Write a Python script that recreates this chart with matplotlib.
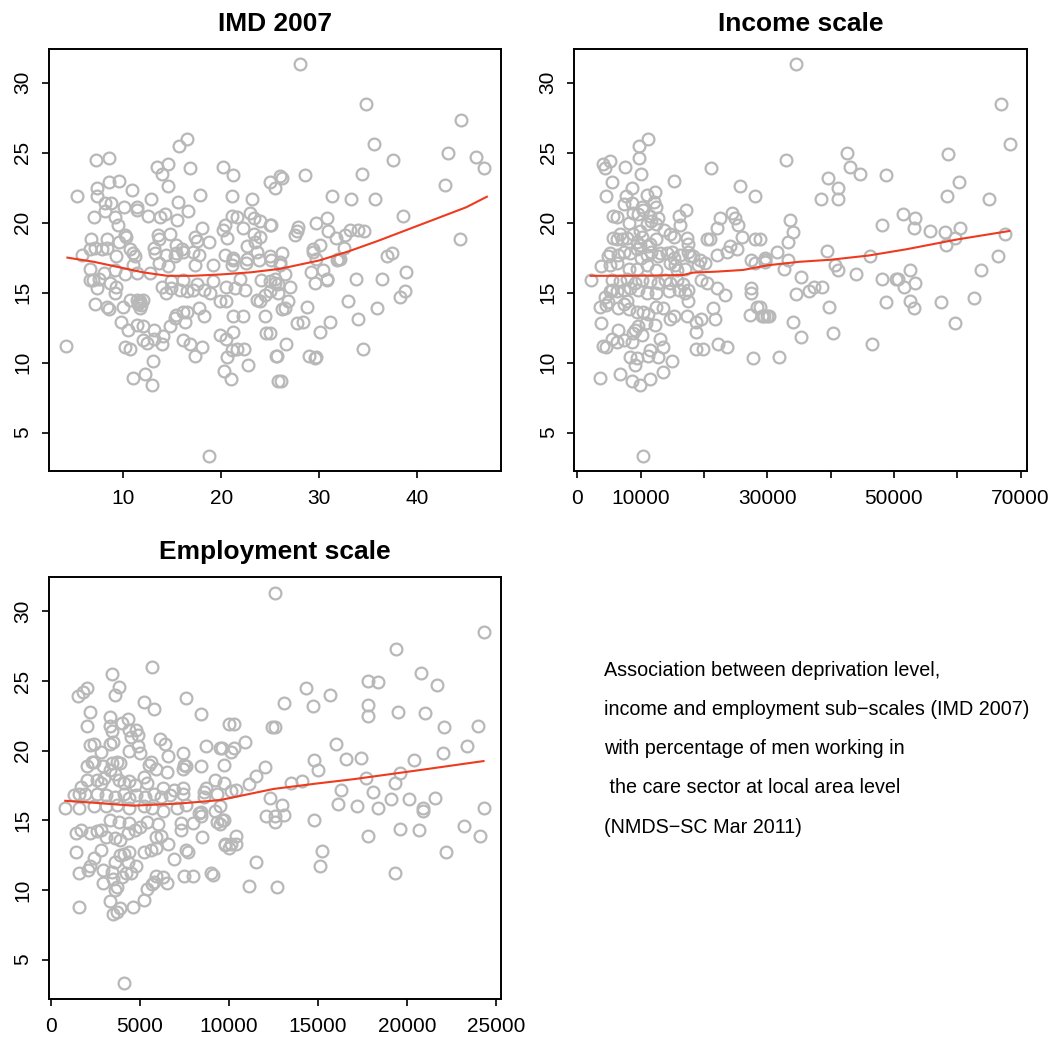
import matplotlib

matplotlib.use("Agg")

import matplotlib.pyplot as plt  # noqa: E402
import numpy as np  # noqa: E402

plt.rcParams["font.family"] = ["Liberation Sans", "DejaVu Sans"]

# % of men in care sector (y) against IMD score (x)
imd_pts = [
    (16.5, 26.0), (15.7, 25.5), (7.2, 24.5), (8.5, 24.6), (13.4, 24.0), (14.6, 24.2), (14.0, 23.5),
    (16.8, 23.9), (20.2, 24.0), (21.2, 23.4), (25.0, 22.9), (25.5, 22.5), (26.0, 23.3), (5.3, 21.9),
    (7.3, 22.5), (7.3, 21.9), (8.5, 22.9), (9.6, 23.0), (10.9, 22.3), (14.6, 22.6), (12.8, 21.7),
    (17.8, 22.0), (21.1, 21.9), (23.1, 21.7), (15.6, 21.5), (16.6, 20.8), (8.1, 21.4), (8.7, 21.4),
    (8.1, 20.8), (10.1, 21.1), (11.4, 21.1), (11.4, 20.9), (9.2, 20.4), (9.5, 19.8), (7.0, 20.4),
    (12.5, 20.5), (13.7, 20.4), (14.3, 20.6), (15.5, 20.2), (21.1, 20.5), (21.6, 20.4), (22.9, 20.7),
    (23.3, 20.3), (24.0, 20.1), (25.0, 19.8), (18.0, 19.6), (20.2, 19.5), (20.4, 19.8), (20.6, 18.9),
    (22.2, 19.6), (23.3, 19.2), (24.0, 19.0), (23.4, 18.6), (22.6, 18.3), (23.6, 17.9), (6.7, 18.8),
    (8.3, 18.8), (9.6, 18.6), (10.2, 19.1), (10.3, 19.0), (13.5, 19.1), (13.6, 18.8), (13.1, 18.2),
    (14.8, 19.2), (15.4, 18.4), (16.0, 18.1), (17.3, 19.0), (17.5, 18.7), (18.7, 18.6), (17.1, 17.9),
    (17.7, 17.7), (5.8, 17.7), (6.6, 18.1), (7.1, 18.2), (7.8, 18.1), (8.3, 18.2), (9.3, 17.6),
    (10.7, 18.1), (11.0, 17.8), (13.2, 17.8), (14.4, 17.7), (15.4, 17.8), (16.1, 17.9), (20.4, 17.7),
    (21.2, 17.5), (22.6, 17.4), (25.0, 17.6), (11.2, 17.6), (11.0, 17.0), (15.3, 17.6), (19.2, 17.0),
    (21.2, 17.3), (21.1, 17.0), (22.5, 17.1), (23.8, 17.3), (26.0, 17.2), (17.3, 17.0), (13.6, 17.1),
    (14.6, 16.9), (6.6, 16.7), (8.0, 16.4), (9.2, 16.6), (10.2, 16.3), (11.4, 16.4), (12.7, 16.4),
    (6.9, 15.9), (7.5, 16.0), (6.6, 15.9), (8.6, 15.7), (9.3, 15.4), (9.2, 15.0), (7.3, 15.3),
    (13.9, 15.4), (14.9, 15.3), (14.4, 15.0), (15.8, 15.2), (16.5, 15.1), (17.1, 15.2), (18.2, 15.2),
    (18.8, 15.0), (20.5, 15.4), (21.4, 15.3), (22.4, 15.2), (14.9, 15.8), (16.1, 15.9), (17.5, 15.6),
    (19.2, 15.8), (21.9, 16.0), (24.1, 15.9), (25.0, 15.8), (25.8, 15.0), (25.5, 16.0), (7.1, 14.2),
    (8.3, 14.0), (8.5, 13.8), (10.0, 14.0), (10.7, 14.5), (11.4, 14.5), (11.7, 14.4), (12.0, 14.5),
    (11.7, 13.9), (11.5, 14.2), (11.6, 14.3), (11.8, 14.1), (24.0, 14.4), (23.6, 14.5), (24.5, 14.8),
    (25.0, 15.1), (9.8, 12.9), (10.5, 12.3), (11.4, 12.7), (12.0, 12.6), (13.1, 12.3), (14.1, 11.9),
    (14.8, 12.6), (15.3, 13.2), (15.4, 13.4), (16.3, 12.9), (16.1, 13.6), (16.5, 13.6), (17.7, 13.9),
    (18.2, 13.3), (19.9, 14.4), (20.5, 14.4), (21.2, 13.3), (22.2, 13.3), (24.5, 13.3), (26.2, 13.8),
    (4.2, 11.2), (10.2, 11.1), (10.7, 11.0), (12.0, 11.6), (12.4, 11.4), (13.1, 11.7), (13.9, 11.3),
    (16.1, 11.6), (16.8, 11.3), (17.3, 10.5), (18.0, 11.1), (13.0, 10.1), (11.0, 8.9), (12.2, 9.2),
    (12.9, 8.4), (19.9, 12.0), (20.5, 11.7), (21.2, 12.2), (21.1, 10.9), (21.6, 11.0), (22.3, 11.0),
    (20.6, 10.4), (20.3, 9.4), (21.0, 8.8), (22.7, 9.8), (24.6, 12.1), (25.7, 10.5), (25.8, 8.7),
    (18.7, 3.3), (28.0, 31.3), (34.8, 28.5), (44.5, 27.3), (35.6, 25.6), (37.5, 24.5), (43.1, 25.0),
    (46.0, 24.7), (46.8, 23.9), (42.8, 22.7), (26.2, 23.2), (28.5, 23.4), (34.4, 23.5), (31.3, 21.9),
    (33.2, 21.7), (35.7, 21.7), (38.5, 20.5), (25.1, 19.8), (29.7, 20.0), (30.8, 20.3), (30.9, 19.4),
    (31.7, 18.9), (32.6, 19.1), (33.1, 19.5), (33.9, 19.5), (34.6, 19.4), (27.8, 19.7), (27.7, 19.4),
    (27.5, 19.1), (30.1, 18.4), (29.4, 18.1), (32.5, 18.2), (44.4, 18.8), (26.2, 17.8), (36.9, 17.6),
    (37.4, 17.8), (29.7, 17.4), (31.9, 17.4), (29.4, 17.9), (31.8, 17.3), (32.1, 17.4), (26.0, 17.0),
    (25.1, 17.3), (26.5, 16.3), (25.5, 15.7), (25.8, 15.6), (27.0, 15.4), (29.2, 16.5), (30.4, 16.6),
    (30.8, 16.0), (30.8, 15.9), (29.6, 15.7), (33.7, 16.0), (36.4, 16.0), (38.9, 16.5), (38.7, 15.1),
    (38.2, 14.7), (26.8, 14.4), (26.5, 13.9), (28.7, 14.0), (32.9, 14.4), (35.9, 13.9), (27.7, 12.8),
    (28.3, 12.9), (31.1, 12.9), (30.1, 12.2), (34.0, 13.1), (25.0, 12.1), (26.6, 11.3), (25.6, 10.5),
    (28.9, 10.5), (29.6, 10.3), (29.7, 10.4), (34.5, 11.0), (26.1, 8.7),
]

income_pts = [
    (11200, 26.0), (9700, 25.5), (4000, 24.2), (5100, 24.4), (4400, 23.9), (7500, 24.0), (9700, 24.6),
    (10000, 23.5), (21100, 23.9), (5400, 22.9), (15300, 23.0), (4600, 21.9), (8600, 22.5), (7700, 21.9),
    (7400, 21.3), (8700, 21.4), (11000, 22.0), (12300, 22.2), (12100, 21.5), (12400, 21.1), (10200, 21.1),
    (10400, 20.9), (8800, 20.7), (9600, 20.6), (11500, 20.5), (12800, 20.3), (11700, 20.1), (11000, 19.9),
    (12500, 19.9), (5700, 20.5), (6200, 20.4), (8100, 20.0), (25700, 22.6), (28100, 21.9), (17100, 20.9),
    (16100, 20.5), (16200, 19.8), (13700, 19.5), (14600, 19.2), (15200, 19.0), (17300, 18.9), (17500, 18.5),
    (12500, 18.8), (11500, 18.5), (9900, 19.4), (10200, 19.0), (8800, 19.2), (5700, 18.9), (6200, 18.8),
    (7000, 18.8), (6700, 19.2), (7800, 18.9), (9400, 18.6), (9900, 18.4), (11200, 18.3), (11700, 17.9),
    (9400, 18.1), (8300, 17.8), (4900, 17.6), (22500, 20.3), (24400, 20.7), (24900, 20.3), (25400, 19.8),
    (22000, 19.6), (21000, 18.8), (20400, 18.8), (26000, 19.0), (28100, 18.8), (24100, 18.3), (25200, 18.1),
    (23600, 17.9), (22000, 17.7), (27500, 17.3), (29600, 17.5), (13100, 17.8), (14900, 17.9), (17500, 17.9),
    (17800, 17.6), (6500, 17.7), (7300, 17.9), (10000, 17.5), (11000, 17.7), (12800, 17.6), (14100, 17.8),
    (15200, 17.5), (16200, 17.7), (18300, 17.6), (5200, 17.8), (19400, 17.3), (20200, 17.1), (28100, 17.1),
    (29600, 17.2), (3700, 16.9), (5200, 17.0), (6200, 17.1), (8100, 16.7), (9400, 16.7), (11000, 17.0),
    (12500, 16.6), (14600, 17.1), (15400, 17.0), (15700, 16.6), (17000, 16.7), (19100, 17.0), (2100, 15.9),
    (5400, 15.9), (6700, 15.8), (7800, 16.0), (9100, 15.7), (10200, 15.9), (11500, 15.8), (12800, 15.7),
    (13800, 15.9), (14600, 15.7), (15700, 15.9), (16700, 15.6), (17500, 15.2), (16000, 15.2), (14400, 15.1),
    (12500, 15.0), (11000, 15.0), (9600, 15.2), (8300, 15.3), (7300, 15.2), (6200, 15.1), (5200, 15.1),
    (19600, 15.9), (20400, 15.7), (22000, 15.3), (23300, 14.8), (27500, 15.3), (27400, 15.0), (5400, 15.2),
    (4400, 14.7), (3600, 14.0), (4500, 14.1), (4900, 14.3), (6500, 13.9), (7300, 14.2), (7800, 14.4),
    (8100, 13.8), (9400, 13.6), (10400, 13.6), (11200, 13.5), (12500, 14.0), (13600, 13.9), (14600, 13.1),
    (15200, 13.3), (17300, 13.3), (17500, 14.4), (17000, 15.0), (21500, 13.9), (21800, 13.1), (18800, 12.9),
    (19600, 13.1), (18800, 12.2), (27300, 13.4), (28300, 14.0), (29100, 13.3), (29900, 13.3), (3800, 12.8),
    (6500, 12.3), (5400, 11.7), (6200, 11.5), (7300, 11.6), (9100, 12.3), (9600, 12.6), (8800, 12.1),
    (8600, 11.5), (10200, 12.0), (10800, 12.8), (12300, 12.7), (13100, 11.7), (13600, 11.1), (11500, 10.9),
    (12800, 10.4), (11200, 10.5), (9400, 10.3), (9100, 9.8), (8300, 10.4), (14900, 10.1), (4100, 11.2),
    (4600, 11.1), (18800, 11.0), (19900, 11.0), (22200, 11.3), (23600, 11.1), (27800, 10.3), (3600, 8.9),
    (6700, 9.2), (8600, 8.7), (9900, 8.4), (11500, 8.8), (13500, 9.3), (10400, 3.3), (34500, 31.3),
    (66900, 28.5), (68300, 25.6), (42600, 25.0), (43100, 24.0), (44700, 23.5), (48800, 23.4), (58500, 24.9),
    (60200, 22.9), (58400, 21.9), (65000, 21.7), (33000, 24.5), (39600, 23.2), (41200, 22.5), (41100, 21.7),
    (38500, 21.7), (33600, 20.2), (34100, 19.3), (33200, 18.6), (51400, 20.6), (53300, 20.3), (53200, 19.6),
    (55700, 19.4), (58100, 19.3), (60400, 19.6), (58200, 18.4), (59600, 18.9), (67600, 19.2), (48100, 19.8),
    (28800, 18.8), (31600, 17.9), (33300, 17.3), (32600, 16.7), (29600, 17.3), (39500, 18.0), (40700, 17.0),
    (41100, 16.6), (46200, 17.6), (66500, 17.6), (63700, 16.6), (35400, 16.1), (37300, 15.4), (36600, 15.1),
    (38600, 15.4), (34500, 14.9), (39800, 14.0), (44000, 16.3), (48100, 16.0), (50400, 16.0), (50700, 16.0),
    (51600, 15.4), (52500, 16.6), (53400, 15.7), (48800, 14.3), (52500, 14.4), (53100, 13.9), (57500, 14.3),
    (62600, 14.6), (59700, 12.8), (28800, 14.0), (29400, 13.3), (30300, 13.3), (34000, 12.9), (35400, 11.8),
    (40300, 12.1), (31800, 10.4), (46500, 11.3),
]

employ_pts = [
    (12600, 31.3), (24300, 28.5), (19400, 27.3), (20800, 25.6), (21700, 24.7), (17800, 25.0), (18400, 24.9),
    (14300, 24.5), (15700, 24.0), (13100, 23.4), (14700, 23.2), (17800, 23.3), (17800, 22.5), (19500, 22.8),
    (21000, 22.7), (22100, 21.7), (24000, 21.8), (12400, 21.7), (12600, 21.7), (10300, 21.9), (16000, 20.5),
    (23400, 20.3), (22000, 19.8), (20400, 19.3), (17400, 19.5), (16600, 19.4), (14800, 19.3), (15000, 18.6),
    (10900, 20.6), (10300, 20.2), (10100, 19.9), (9600, 20.2), (9700, 19.0), (9700, 17.7), (12000, 18.8),
    (11500, 18.2), (11100, 17.6), (10400, 17.2), (10100, 17.1), (12300, 16.6), (13500, 17.7), (14100, 17.8),
    (17700, 18.0), (19600, 18.4), (19300, 17.7), (16300, 17.2), (18100, 17.0), (19100, 16.5), (20100, 16.5),
    (21600, 16.6), (24300, 15.9), (16100, 16.2), (17200, 16.0), (18400, 15.9), (20900, 15.9), (20900, 15.7),
    (13000, 16.1), (9500, 16.0), (9700, 15.0), (9500, 14.7), (12100, 15.3), (12600, 15.3), (12600, 14.9),
    (13100, 15.4), (14800, 15.0), (10400, 13.9), (10100, 13.3), (9800, 13.2), (10000, 13.0), (10400, 13.3),
    (19600, 14.4), (20700, 14.3), (23200, 14.6), (24100, 13.9), (17800, 13.9), (22200, 12.7), (15200, 12.8),
    (15100, 11.7), (11500, 12.0), (19300, 11.2), (11100, 10.3), (12700, 10.2), (5700, 26.0), (3400, 25.5),
    (3800, 24.6), (3600, 24.0), (1500, 23.9), (1800, 24.2), (2000, 24.5), (2200, 22.8), (2000, 21.8),
    (5200, 23.5), (5800, 23.0), (7600, 23.8), (8400, 22.6), (3300, 22.4), (4300, 22.3), (4000, 22.0),
    (3300, 21.8), (3400, 21.4), (3500, 20.6), (3300, 20.5), (4400, 21.5), (4800, 21.5), (4900, 21.1),
    (4500, 21.0), (4400, 20.0), (4900, 20.3), (5000, 19.8), (6100, 20.8), (6400, 20.5), (7400, 19.8),
    (8700, 20.3), (9500, 20.2), (10000, 21.9), (9200, 17.9), (8400, 18.9), (7600, 18.9), (7400, 18.7),
    (7500, 19.0), (6600, 19.6), (6500, 18.5), (5900, 18.7), (5600, 19.2), (5500, 19.0), (5200, 18.1),
    (2200, 20.4), (2400, 20.5), (2800, 19.9), (2300, 19.2), (2000, 18.9), (2400, 19.2), (2900, 18.9),
    (3400, 19.1), (3700, 19.2), (3900, 19.1), (3300, 18.6), (3600, 18.3), (2600, 17.9), (2000, 17.9),
    (1700, 17.4), (1900, 16.9), (2800, 17.7), (3000, 18.0), (3800, 17.9), (4100, 17.7), (4400, 17.8),
    (4700, 17.5), (5400, 17.7), (6300, 17.3), (6900, 17.2), (7400, 17.3), (8700, 17.3), (8600, 16.7),
    (1300, 16.8), (1600, 16.9), (2600, 16.9), (3100, 16.8), (3600, 16.7), (4100, 16.9), (4400, 16.6),
    (4800, 16.8), (5300, 16.7), (5800, 16.9), (6200, 16.7), (6700, 16.8), (7400, 16.9), (8600, 17.0),
    (9300, 16.9), (800, 15.9), (1600, 15.9), (2400, 16.0), (3100, 16.0), (3700, 16.1), (4400, 15.9),
    (5200, 16.0), (5700, 15.9), (6300, 15.7), (7100, 15.9), (7600, 16.1), (8400, 15.6), (9200, 15.7),
    (1400, 14.1), (1700, 14.3), (2200, 14.1), (2600, 14.2), (2800, 14.3), (3100, 13.8), (3600, 13.7),
    (3900, 13.6), (4300, 14.1), (4700, 14.3), (5000, 14.5), (4400, 14.8), (3800, 14.9), (3300, 15.0),
    (5400, 14.9), (6000, 14.7), (5900, 13.8), (6200, 13.9), (6600, 13.3), (7300, 14.8), (7300, 14.3),
    (8000, 14.8), (8500, 13.8), (8300, 15.5), (8400, 15.3), (9300, 14.9), (9600, 15.0), (9800, 13.3),
    (1400, 12.7), (2800, 12.9), (2400, 12.3), (2200, 11.7), (1600, 11.2), (2100, 11.4), (2900, 11.4),
    (3400, 11.3), (3600, 12.0), (3900, 12.5), (4100, 12.6), (4300, 12.0), (4400, 12.7), (4800, 11.7),
    (3500, 10.8), (4000, 10.9), (4200, 11.2), (4500, 11.2), (5200, 12.7), (5600, 12.9), (5900, 13.0),
    (6900, 12.2), (7600, 12.9), (7700, 12.7), (7500, 11.0), (8000, 11.0), (9000, 11.2), (9100, 11.1),
    (6300, 10.9), (5900, 11.0), (5800, 10.6), (5700, 10.4), (5400, 10.1), (5200, 9.3), (4600, 8.8),
    (3900, 8.7), (3700, 8.4), (3500, 8.3), (3300, 9.2), (2900, 10.5), (3600, 10.0), (3700, 10.2),
    (6500, 10.5), (1600, 8.8), (4100, 3.3),
]

# lowess smoothers
imd_fit_x = [4.3, 7, 10, 12, 14.5, 17, 20, 23, 26, 28, 30, 33, 36, 39, 42, 45, 47.1]
imd_fit_y = [17.5, 17.2, 16.75, 16.45, 16.2, 16.2, 16.3, 16.45, 16.7, 17.0, 17.3, 17.95, 18.7, 19.5, 20.3,
             21.1, 21.85]
income_fit_x = [2100, 8000, 12000, 16700, 18300, 22000, 26200, 30000, 35000, 40000, 46000, 52000, 60000,
                68200]
income_fit_y = [16.2, 16.2, 16.22, 16.26, 16.43, 16.5, 16.62, 16.95, 17.2, 17.35, 17.65, 18.1, 18.8, 19.4]
employ_fit_x = [800, 2500, 4600, 7200, 9500, 11000, 12500, 15000, 17000, 20700, 24300]
employ_fit_y = [16.4, 16.25, 16.05, 16.2, 16.45, 16.85, 17.25, 17.65, 17.95, 18.6, 19.25]

y_ticks = [5, 10, 15, 20, 25, 30]
imd_ticks = [10, 20, 30, 40]
income_ticks = [0, 10000, 20000, 30000, 40000, 50000, 60000, 70000]
income_labels = ["0", "10000", "", "30000", "", "50000", "", "70000"]
employ_ticks = [0, 5000, 10000, 15000, 20000, 25000]

caption = [
    "Association between deprivation level,",
    "income and employment sub\u2212scales (IMD 2007)",
    "with percentage of men working in",
    " the care sector at local area level",
    "(NMDS\u2212SC Mar 2011)",
]

POINT_COLOR = "#B8B8B8"
FIT_COLOR = "#EE3A1E"

fig = plt.figure(figsize=(10.54, 10.41), dpi=100)


def panel(rect, pts, fit_x, fit_y, title, xlim, ylim, xticks, xlabels):
    ax = fig.add_axes(rect)
    pts = np.array(pts, dtype=float)
    ax.plot(pts[:, 0], pts[:, 1], ls="none", marker="o", ms=8.5, mfc="none",
            mec=POINT_COLOR, mew=1.6)
    ax.plot(fit_x, fit_y, color=FIT_COLOR, lw=1.5)
    ax.set_xlim(xlim)
    ax.set_ylim(ylim)
    ax.set_xticks(xticks, xlabels)
    ax.set_yticks(y_ticks, [str(t) for t in y_ticks])
    ax.tick_params(direction="out", length=5, width=1.2, labelsize=15, pad=8)
    ax.tick_params(axis="y", labelrotation=90, pad=7)
    for lab in ax.get_yticklabels():
        lab.set_va("center")
    for s in ax.spines.values():
        s.set_linewidth(1.4)
    ax.set_title(title, fontsize=19, fontweight="bold", pad=13)
    return ax


panel([0.0465, 0.5476, 0.4288, 0.4054], imd_pts, imd_fit_x, imd_fit_y, "IMD 2007",
      (2.42, 48.54), (2.26, 32.41), imd_ticks, [str(t) for t in imd_ticks])
panel([0.5449, 0.5476, 0.4292, 0.4054], income_pts, income_fit_x, income_fit_y, "Income scale",
      (-474, 70963), (2.26, 32.41), income_ticks, income_labels)
panel([0.0465, 0.0400, 0.4288, 0.4060], employ_pts, employ_fit_x, employ_fit_y, "Employment scale",
      (-112, 25281), (2.15, 32.48), employ_ticks, [str(t) for t in employ_ticks])

for i, line in enumerate(caption):
    fig.text(604 / 1054, 1 - (670 + 39.3 * i) / 1041, line, fontsize=14.2, va="center", ha="left")

fig.savefig("out.png", dpi=100)
